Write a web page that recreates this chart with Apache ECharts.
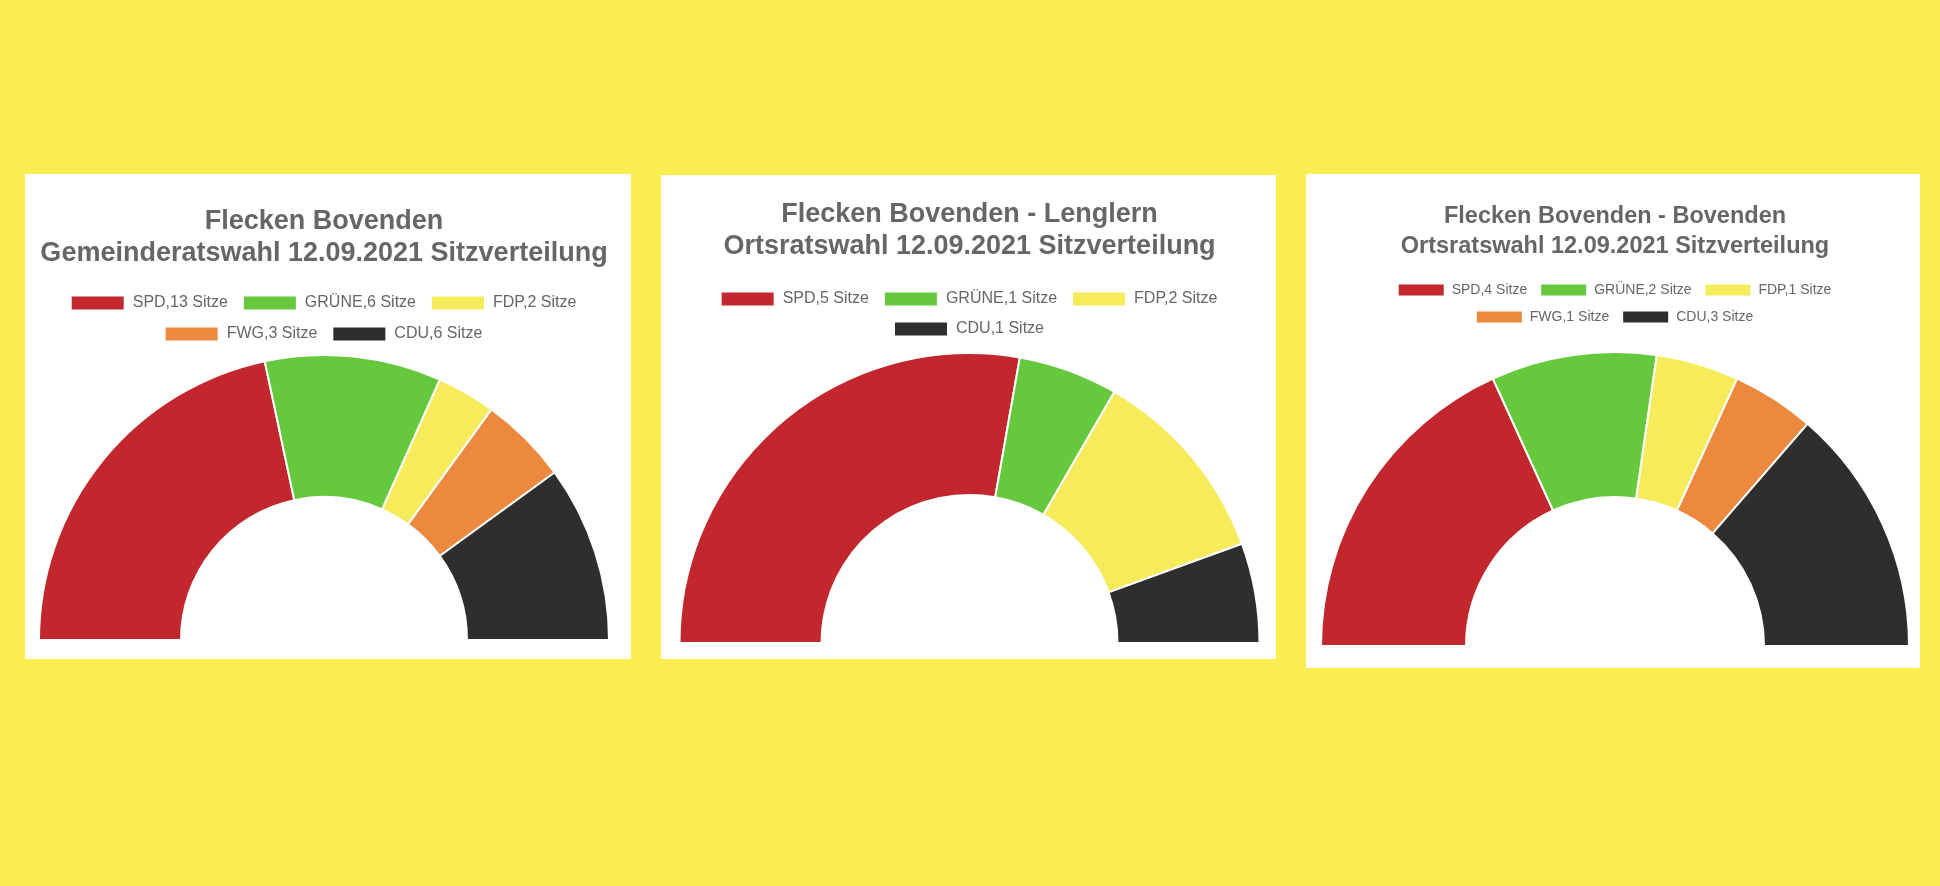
<!DOCTYPE html>
<html>
<head>
<meta charset="utf-8">
<script src="https://cdn.jsdelivr.net/npm/echarts/dist/echarts.min.js"></script>
<style>
    html, body { margin: 0; padding: 0; }
    body { width: 1940px; height: 886px; background: #FAED50; position: relative; overflow: hidden; }
    .box { position: absolute; background: #fff; }
    .chart { position: absolute; left: 0; top: 0; }
</style>
</head>
<body>
<div class="box" style="left:25px;top:174px;width:606px;height:485px;">
    <div id="chart1" class="chart" style="width:598px;height:485px;"></div>
</div>
<div class="box" style="left:661px;top:175px;width:615px;height:484px;">
    <div id="chart2" class="chart" style="width:617px;height:484px;"></div>
</div>
<div class="box" style="left:1306px;top:174px;width:614px;height:494px;">
    <div id="chart3" class="chart" style="width:618px;height:494px;"></div>
</div>
<script>
// Daten
var title1 = 'Flecken Bovenden\nGemeinderatswahl 12.09.2021 Sitzverteilung';
var parties1 = ['SPD', 'GRÜNE', 'FDP', 'FWG', 'CDU'];
var seats1 = [13, 6, 2, 3, 6];

var title2 = 'Flecken Bovenden - Lenglern\nOrtsratswahl 12.09.2021 Sitzverteilung';
var parties2 = ['SPD', 'GRÜNE', 'FDP', 'CDU'];
var seats2 = [5, 1, 2, 1];

var title3 = 'Flecken Bovenden - Bovenden\nOrtsratswahl 12.09.2021 Sitzverteilung';
var parties3 = ['SPD', 'GRÜNE', 'FDP', 'FWG', 'CDU'];
var seats3 = [4, 2, 1, 1, 3];

var partyColors = {
    'SPD': '#C1272D',
    'GRÜNE': '#66C93D',
    'FDP': '#F6EB5B',
    'FWG': '#EC893E',
    'CDU': '#2F2E2D'
};

var FONT = '"Liberation Sans", Arial, Helvetica, sans-serif';

function initHalfPie(domId, title, parties, seats, rows, lay) {
    var myChart = echarts.init(document.getElementById(domId));
    var data = parties.map(function (p, i) {
        return { name: p, value: seats[i], itemStyle: { color: partyColors[p] } };
    });
    var legends = rows.map(function (row, r) {
        return {
            data: row,
            left: 'center',
            top: lay.legendTop[r],
            padding: 0,
            icon: 'rect',
            itemWidth: lay.boxW,
            itemHeight: lay.boxH,
            itemGap: lay.gap,
            selectedMode: false,
            itemStyle: { borderWidth: 0 },
            textStyle: {
                fontFamily: FONT,
                fontSize: lay.legendSize,
                lineHeight: lay.legendSize,
                color: '#666',
                padding: [0, 0, 0, lay.textGap]
            },
            formatter: function (name) {
                return name + ',' + seats[parties.indexOf(name)] + ' Sitze';
            }
        };
    });
    myChart.setOption({
        animation: false,
        title: {
            text: title,
            left: 'center',
            top: lay.titleTop,
            padding: 0,
            textStyle: {
                fontFamily: FONT,
                fontSize: lay.titleSize,
                fontWeight: 'bold',
                lineHeight: lay.titleLine,
                color: '#666'
            }
        },
        legend: legends,
        series: [{
            type: 'pie',
            startAngle: 180,
            endAngle: 360,
            clockwise: true,
            center: lay.center,
            radius: lay.radius,
            label: { show: false },
            labelLine: { show: false },
            emphasis: { disabled: true },
            itemStyle: { borderColor: '#fff', borderWidth: 2 },
            data: data
        }]
    });
}

initHalfPie('chart1', title1, parties1, seats1,
    [['SPD', 'GRÜNE', 'FDP'], ['FWG', 'CDU']],
    { titleTop: 32, titleSize: 27, titleLine: 32, legendTop: [121, 152], legendSize: 16,
      boxW: 52, boxH: 13, gap: 16, textGap: 4, center: [299, 466], radius: [143, 285] });

initHalfPie('chart2', title2, parties2, seats2,
    [['SPD', 'GRÜNE', 'FDP'], ['CDU']],
    { titleTop: 24, titleSize: 27, titleLine: 32, legendTop: [116, 146], legendSize: 16,
      boxW: 52, boxH: 13, gap: 16, textGap: 4, center: [308.5, 468], radius: [148, 290] });

initHalfPie('chart3', title3, parties3, seats3,
    [['SPD', 'GRÜNE', 'FDP'], ['FWG', 'CDU']],
    { titleTop: 28, titleSize: 23.5, titleLine: 30, legendTop: [109, 136], legendSize: 14,
      boxW: 45, boxH: 11, gap: 14, textGap: 3, center: [309, 472], radius: [149, 294] });
</script>
</body>
</html>
